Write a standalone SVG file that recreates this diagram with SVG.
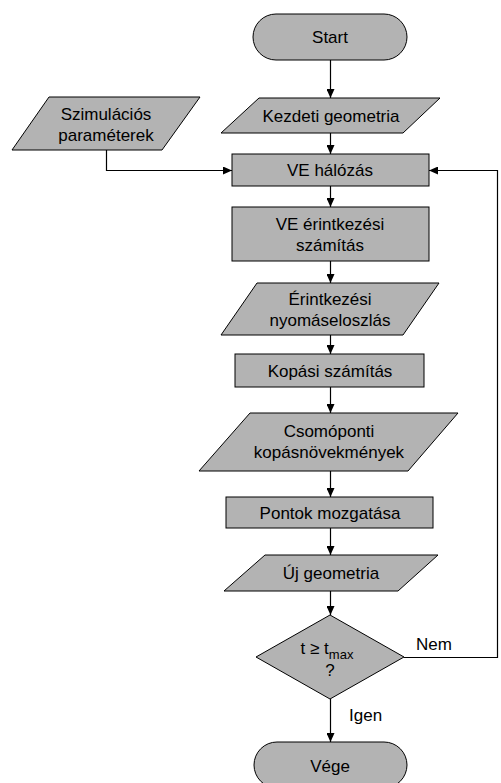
<svg xmlns="http://www.w3.org/2000/svg" width="501" height="783" viewBox="0 0 501 783">
<style>
.n{fill:#b3b3b3;stroke:#000;stroke-width:1}
.t{font-family:"Liberation Sans",Arial,sans-serif;font-size:17px;fill:#000;text-anchor:middle}
.l{font-family:"Liberation Sans",Arial,sans-serif;font-size:17px;fill:#000}
.c{fill:none;stroke:#000;stroke-width:1.2}
</style>
<defs>
<marker id="ah" markerUnits="userSpaceOnUse" markerWidth="9" markerHeight="8" refX="9" refY="4" orient="auto">
<path d="M0,0 L9,4 L0,8 z" fill="#000"/>
</marker>
</defs>
<rect width="501" height="783" fill="#fff"/>
<g id="connectors">
<path class="c" marker-end="url(#ah)" d="M330.5,60 V98"/>
<path class="c" marker-end="url(#ah)" d="M330.5,133 V154"/>
<path class="c" marker-end="url(#ah)" d="M330.5,186 V207"/>
<path class="c" marker-end="url(#ah)" d="M330.5,261 V283"/>
<path class="c" marker-end="url(#ah)" d="M330.5,335 V354"/>
<path class="c" marker-end="url(#ah)" d="M330.5,387 V413"/>
<path class="c" marker-end="url(#ah)" d="M330.5,471 V497"/>
<path class="c" marker-end="url(#ah)" d="M330.5,528 V555"/>
<path class="c" marker-end="url(#ah)" d="M330.5,591 V615"/>
<path class="c" marker-end="url(#ah)" d="M330.5,699 V742"/>
<path class="c" marker-end="url(#ah)" d="M106.5,150 V170.5 H232"/>
<path class="c" marker-end="url(#ah)" d="M404,657.5 H497.5 V170.5 H429"/>
</g>
<g id="start">
<rect class="n" x="253" y="14" width="154" height="46" rx="23" ry="23"/>
<text class="t" x="330" y="43">Start</text>
</g>
<g id="szim">
<polygon class="n" points="49,97 200,97 162,150 12,150"/>
<text class="t" x="106" y="120">Szimulációs</text>
<text class="t" x="106" y="141">paraméterek</text>
</g>
<g id="kezdeti">
<polygon class="n" points="259,98 440,98 403,133 221,133"/>
<text class="t" x="331" y="122">Kezdeti geometria</text>
</g>
<g id="halozas">
<rect class="n" x="232" y="154" width="197" height="32"/>
<text class="t" x="330" y="176">VE hálózás</text>
</g>
<g id="erintkezes">
<rect class="n" x="232" y="207" width="197" height="54"/>
<text class="t" x="330" y="230">VE érintkezési</text>
<text class="t" x="330" y="251">számítás</text>
</g>
<g id="nyomas">
<polygon class="n" points="257,283 439,283 403,335 221,335"/>
<text class="t" x="330" y="305">Érintkezési</text>
<text class="t" x="330" y="326">nyomáseloszlás</text>
</g>
<g id="kopas">
<rect class="n" x="235" y="354" width="189" height="33"/>
<text class="t" x="330" y="377">Kopási számítás</text>
</g>
<g id="csomoponti">
<polygon class="n" points="250,413 458,413 408,471 199,471"/>
<text class="t" x="329" y="437">Csomóponti</text>
<text class="t" x="329" y="458">kopásnövekmények</text>
</g>
<g id="pontok">
<rect class="n" x="226" y="497" width="207" height="31"/>
<text class="t" x="330" y="519">Pontok mozgatása</text>
</g>
<g id="uj">
<polygon class="n" points="265,555 438,555 398,591 224,591"/>
<text class="t" x="331" y="579">Új geometria</text>
</g>
<g id="dontes">
<polygon class="n" points="330,615 404,657 330,699 256,657"/>
<text class="t" x="327" y="654">t ≥ t<tspan font-size="13" dy="5">max</tspan></text>
<text class="t" x="330" y="676">?</text>
</g>
<g id="labels">
<text class="l" x="416" y="650">Nem</text>
<text class="l" x="349" y="721">Igen</text>
</g>
<g id="vege">
<rect class="n" x="254" y="742" width="153" height="46" rx="23" ry="23"/>
<text class="t" x="330" y="772">Vége</text>
</g>
</svg>
